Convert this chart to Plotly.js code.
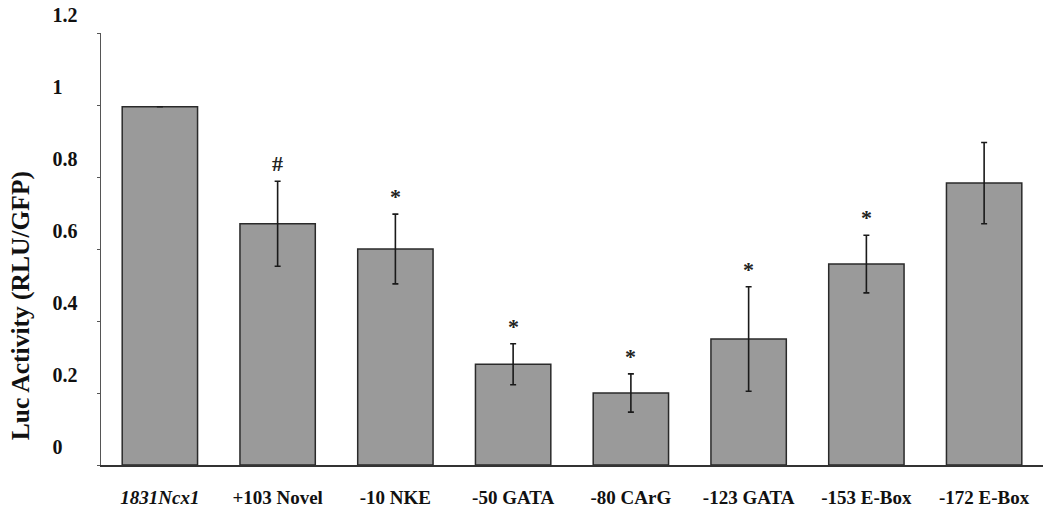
<!DOCTYPE html>
<html>
<head>
<meta charset="utf-8">
<script src="https://cdn.plot.ly/plotly-3.0.1.min.js"></script>
<style>html,body{margin:0;padding:0;background:#fff;}#chart{width:1050px;height:519px;}</style>
</head>
<body>
<div id="chart"></div>
<script>
const categories = ["1831Ncx1", "+103 Novel", "-10 NKE", "-50 GATA", "-80 CArG", "-123 GATA", "-153 E-Box", "-172 E-Box"];
const tickLabels = ["<i>1831Ncx1</i>", "+103 Novel", "-10 NKE", "-50 GATA", "-80 CArG", "-123 GATA", "-153 E-Box", "-172 E-Box"];
const values = [0.995, 0.67, 0.60, 0.28, 0.20, 0.35, 0.558, 0.783];
const errors = [0, 0.118, 0.097, 0.057, 0.053, 0.145, 0.08, 0.113];
const marks = ["", "#", "*", "*", "*", "*", "*", ""];
const yTickVals = [0, 0.2, 0.4, 0.6, 0.8, 1, 1.2];
const yTickText = ["0\u2008\u2007", "0.2", "0.4", "0.6", "0.8", "1\u2008\u2007", "1.2"];

const serif = "Liberation Serif, Times New Roman, serif";

const trace = {
  type: "bar",
  x: categories,
  y: values,
  marker: {color: "#9a9a9a", line: {color: "#2a2a2a", width: 1.5}},
  error_y: {type: "data", array: errors, visible: true, color: "#1a1a1a", thickness: 1.6, width: 3},
  hoverinfo: "skip"
};

const annotations = [];
categories.forEach((c, i) => {
  if (marks[i]) {
    annotations.push({
      x: c, y: values[i] + errors[i], xref: "x", yref: "y",
      text: "<b>" + marks[i] + "</b>", showarrow: false,
      yanchor: "bottom", yshift: 3,
      font: {family: serif, size: 22, color: "#222"}
    });
  }
});
annotations.push({
  xref: "paper", yref: "paper", x: -0.086, y: 0.37,
  text: "<b>Luc Activity (RLU/GFP)</b>", textangle: -90, showarrow: false,
  xanchor: "center", yanchor: "middle",
  font: {family: serif, size: 25.5, color: "#111"}
});

const layout = {
  width: 1050, height: 519,
  margin: {l: 101, r: 7, t: 33, b: 54},
  paper_bgcolor: "#fff", plot_bgcolor: "#fff",
  showlegend: false,
  bargap: 0.36,
  xaxis: {
    tickmode: "array", tickvals: categories, ticktext: tickLabels,
    showline: true, linecolor: "#333", linewidth: 1.5,
    ticks: "", showgrid: false, zeroline: false,
    ticklabelstandoff: 15,
    tickfont: {family: serif, size: 19, color: "#111", weight: "bold"},
    fixedrange: true
  },
  yaxis: {
    range: [0, 1.2], tickmode: "array", tickvals: yTickVals, ticktext: yTickText,
    showline: true, linecolor: "#555", linewidth: 1.5,
    ticks: "outside", ticklen: 3, tickcolor: "#555",
    showgrid: false, zeroline: false,
    ticklabelshift: -18, ticklabelstandoff: 15,
    tickfont: {family: serif, size: 20, color: "#111", weight: "bold"},
    fixedrange: true
  },
  annotations: annotations
};

Plotly.newPlot("chart", [trace], layout, {displayModeBar: false, staticPlot: true});
</script>
</body>
</html>
